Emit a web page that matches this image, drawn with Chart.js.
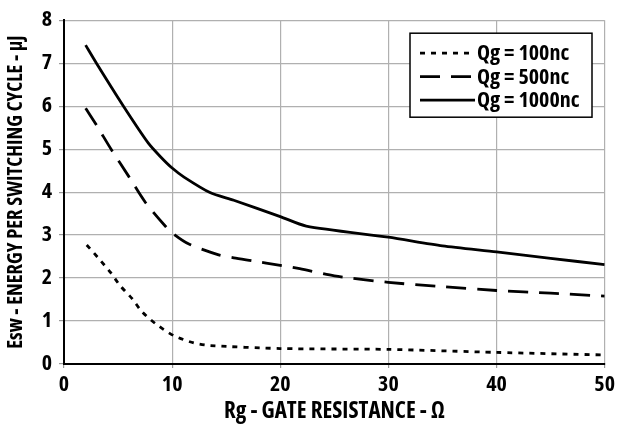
<!DOCTYPE html>
<html>
<head>
<meta charset="utf-8">
<script src="https://cdn.jsdelivr.net/npm/chart.js@4.4.1/dist/chart.umd.min.js"></script>
<style>
html,body{margin:0;padding:0;background:#fff;}
#wrap{width:619px;height:425px;position:relative;}
</style>
</head>
<body>
<div id="wrap"><canvas id="c" width="619" height="425"></canvas></div>
<script>
// Data
const seriesLabels = ["Qg = 100nc", "Qg = 500nc", "Qg = 1000nc"];
const rg100  = [2.1, 3.3, 4.3, 5.2, 6.3, 7.2, 8.45, 10.15, 12, 13.5, 20, 30, 40, 50];
const esw100 = [2.77, 2.43, 2.13, 1.82, 1.52, 1.22, 0.94, 0.66, 0.49, 0.43, 0.36, 0.34, 0.27, 0.21];
const rg500  = [2, 3, 4.4, 6, 7.5, 9.4, 10.15, 11.55, 14.3, 15.7, 17.5, 18.7, 21.8, 25, 30, 35, 40, 45, 50];
const esw500 = [5.95, 5.56, 4.98, 4.36, 3.77, 3.2, 3.02, 2.79, 2.54, 2.47, 2.40, 2.35, 2.22, 2.05, 1.90, 1.80, 1.71, 1.65, 1.58];
const rg1000  = [2, 3, 5.5, 7.8, 8.9, 10, 11.1, 13.5, 15.7, 20, 22.4, 30, 35, 40, 45, 50];
const esw1000 = [7.42, 7.0, 6.0, 5.14, 4.83, 4.56, 4.35, 3.99, 3.81, 3.43, 3.21, 2.95, 2.75, 2.61, 2.46, 2.31];
const xTicks = [0, 10, 20, 30, 40, 50];
const yTicks = [0, 1, 2, 3, 4, 5, 6, 7, 8];

const FONT = '"Open Sans", sans-serif';
const W = 'bold condensed';

function pts(xs, ys){ return xs.map((x,i)=>({x:x, y:ys[i]})); }

const legendPlugin = {
  id: 'boxLegend',
  afterDraw(chart){
    const ctx = chart.ctx;
    const ca = chart.chartArea;
    const bx = ca.left + 346, by = ca.top + 13, bw = 182, bh = 84;
    ctx.save();
    ctx.fillStyle = '#fff';
    ctx.fillRect(bx, by, bw, bh);
    ctx.strokeStyle = '#000';
    ctx.lineWidth = 1.5;
    ctx.setLineDash([]);
    ctx.strokeRect(bx, by, bw, bh);
    ctx.font = W + ' 22px ' + FONT;
    ctx.textBaseline = 'middle';
    ctx.fillStyle = '#000';
    chart.data.datasets.forEach((ds, i) => {
      const yy = by + 20 + i * 23.5;
      ctx.beginPath();
      ctx.setLineDash(ds.borderDash || []);
      ctx.lineWidth = ds.borderWidth;
      ctx.moveTo(bx + 10, yy);
      ctx.lineTo(bx + 65, yy);
      ctx.stroke();
      ctx.setLineDash([]);
      ctx.fillText(ds.label, bx + 67, yy + 1);
    });
    ctx.restore();
  }
};

const common = { borderColor: '#000', borderWidth: 2.8, pointRadius: 0, tension: 0.25, fill: false };

new Chart(document.getElementById('c'), {
  type: 'line',
  data: {
    datasets: [
      Object.assign({ label: seriesLabels[0], data: pts(rg100, esw100), borderDash: [5, 6] }, common),
      Object.assign({ label: seriesLabels[1], data: pts(rg500, esw500), borderDash: [20, 11] }, common),
      Object.assign({ label: seriesLabels[2], data: pts(rg1000, esw1000) }, common)
    ]
  },
  options: {
    responsive: false,
    animation: false,
    layout: { padding: { left: 0, right: 14, top: 20, bottom: 0 } },
    plugins: { legend: { display: false }, tooltip: { enabled: false } },
    scales: {
      x: {
        type: 'linear', min: 0, max: 50,
        afterBuildTicks: (s) => { s.ticks = xTicks.map(v => ({value: v})); },
        afterFit: (s) => { s.height = 61; },
        ticks: { color: '#000', font: { family: FONT, size: 22, weight: W }, padding: 4, maxRotation: 0 },
        grid: { color: '#b0b0b0', lineWidth: 1.2, tickLength: 4, tickColor: '#999' },
        border: { color: '#000', width: 2 },
        title: { display: true, text: 'Rg - GATE RESISTANCE - Ω', color: '#000', font: { family: FONT, size: 23, weight: W }, padding: { top: 0, bottom: 0 } }
      },
      y: {
        min: 0, max: 8,
        afterBuildTicks: (s) => { s.ticks = yTicks.map(v => ({value: v})); },
        afterFit: (s) => { s.width = 64; },
        ticks: { color: '#000', font: { family: FONT, size: 22, weight: W }, padding: 7 },
        grid: { color: '#b0b0b0', lineWidth: 1.2, tickLength: 5, tickColor: '#999' },
        border: { color: '#000', width: 2 },
        title: { display: true, text: 'Esw - ENERGY PER SWITCHING CYCLE - μJ', color: '#000', font: { family: FONT, size: 20.5, weight: W }, padding: { top: 4, bottom: 0 } }
      }
    }
  },
  plugins: [legendPlugin]
});
</script>
</body>
</html>
